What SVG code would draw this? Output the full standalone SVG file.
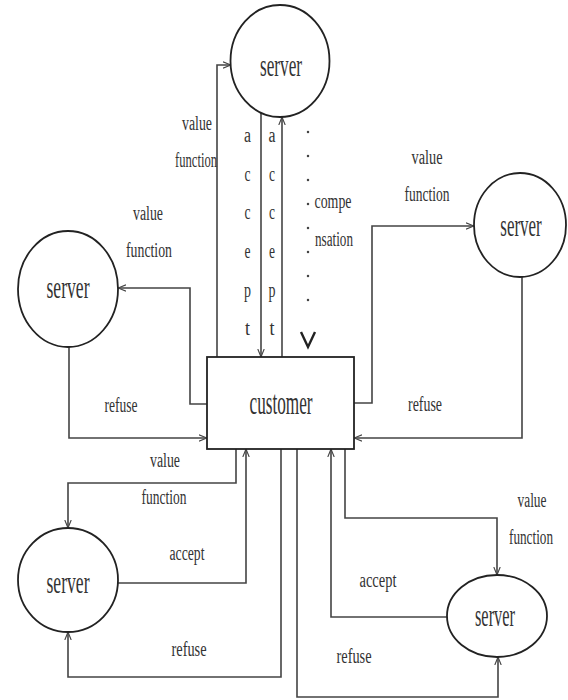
<svg xmlns="http://www.w3.org/2000/svg" width="568" height="700" viewBox="0 0 568 700">
<style>
  .node { fill: #fff; stroke: #222; stroke-width: 1.8; }
  .conn { fill: none; stroke: #444; stroke-width: 1.6; }
  .dots { fill: none; stroke: #444; stroke-width: 2.5; stroke-linecap: round; stroke-dasharray: 0 24; }
  text { font-family: "Liberation Serif", "Times New Roman", serif; fill: #333; text-anchor: middle; }
  .lbl { font-size: 20px; }
  .srv { font-size: 32px; }
  .cus { font-size: 34px; }
</style>
<defs>
  <marker id="arr" viewBox="0 0 10 10" refX="10" refY="5" markerWidth="8" markerHeight="8" markerUnits="userSpaceOnUse" orient="auto">
    <path d="M0,1 L10,5 L0,9" fill="none" stroke="#444" stroke-width="1.4"/>
  </marker>
</defs>
<rect width="568" height="700" fill="#fff"/>

<g id="connectors">
  <path class="conn" d="M217,357 V65 H231" marker-end="url(#arr)"/>
  <path class="conn" d="M261,113 V357" marker-end="url(#arr)"/>
  <path class="conn" d="M282,357 V117" marker-end="url(#arr)"/>
  <path class="dots" d="M308,132 V310"/>
  <path d="M301,332 L308,347 L315,332" fill="none" stroke="#222" stroke-width="2.4"/>
  <path class="conn" d="M354,403 H372 V226 H474" marker-end="url(#arr)"/>
  <path class="conn" d="M522,277 V438 H354" marker-end="url(#arr)"/>
  <path class="conn" d="M207,404 H190 V288 H118" marker-end="url(#arr)"/>
  <path class="conn" d="M69,347 V438 H207" marker-end="url(#arr)"/>
  <path class="conn" d="M236,449 V483 H68 V528" marker-end="url(#arr)"/>
  <path class="conn" d="M118,583 H246 V449" marker-end="url(#arr)"/>
  <path class="conn" d="M281,449 V677 H68 V632" marker-end="url(#arr)"/>
  <path class="conn" d="M297,449 V697 H498 V657" marker-end="url(#arr)"/>
  <path class="conn" d="M447,617 H331 V449" marker-end="url(#arr)"/>
  <path class="conn" d="M345,449 V518 H497 V575" marker-end="url(#arr)"/>
</g>

<g id="labels">
  <text class="lbl" x="197" y="130" textLength="30" lengthAdjust="spacingAndGlyphs">value</text>
  <text class="lbl" x="196" y="167" textLength="42" lengthAdjust="spacingAndGlyphs">function</text>
  <g class="lbl">
    <text x="247.5" y="142" textLength="7" lengthAdjust="spacingAndGlyphs">a</text>
    <text x="247.5" y="181" textLength="6" lengthAdjust="spacingAndGlyphs">c</text>
    <text x="247.5" y="219" textLength="6" lengthAdjust="spacingAndGlyphs">c</text>
    <text x="247.5" y="258" textLength="6" lengthAdjust="spacingAndGlyphs">e</text>
    <text x="247.5" y="297" textLength="7" lengthAdjust="spacingAndGlyphs">p</text>
    <text x="247.5" y="335" textLength="5" lengthAdjust="spacingAndGlyphs">t</text>
    <text x="272" y="142" textLength="7" lengthAdjust="spacingAndGlyphs">a</text>
    <text x="272" y="181" textLength="6" lengthAdjust="spacingAndGlyphs">c</text>
    <text x="272" y="219" textLength="6" lengthAdjust="spacingAndGlyphs">c</text>
    <text x="272" y="258" textLength="6" lengthAdjust="spacingAndGlyphs">e</text>
    <text x="272" y="297" textLength="7" lengthAdjust="spacingAndGlyphs">p</text>
    <text x="272" y="335" textLength="5" lengthAdjust="spacingAndGlyphs">t</text>
  </g>
  <text class="lbl" x="333" y="208" textLength="37" lengthAdjust="spacingAndGlyphs">compe</text>
  <text class="lbl" x="334" y="246" textLength="38" lengthAdjust="spacingAndGlyphs">nsation</text>
  <text class="lbl" x="148" y="220" textLength="30" lengthAdjust="spacingAndGlyphs">value</text>
  <text class="lbl" x="149" y="257" textLength="46" lengthAdjust="spacingAndGlyphs">function</text>
  <text class="lbl" x="121" y="412" textLength="33" lengthAdjust="spacingAndGlyphs">refuse</text>
  <text class="lbl" x="427" y="164" textLength="31" lengthAdjust="spacingAndGlyphs">value</text>
  <text class="lbl" x="427" y="201" textLength="45" lengthAdjust="spacingAndGlyphs">function</text>
  <text class="lbl" x="425" y="411" textLength="34" lengthAdjust="spacingAndGlyphs">refuse</text>
  <text class="lbl" x="165" y="467" textLength="30" lengthAdjust="spacingAndGlyphs">value</text>
  <text class="lbl" x="164" y="504" textLength="45" lengthAdjust="spacingAndGlyphs">function</text>
  <text class="lbl" x="187" y="560" textLength="35" lengthAdjust="spacingAndGlyphs">accept</text>
  <text class="lbl" x="189" y="656" textLength="35" lengthAdjust="spacingAndGlyphs">refuse</text>
  <text class="lbl" x="532" y="507" textLength="29" lengthAdjust="spacingAndGlyphs">value</text>
  <text class="lbl" transform="translate(531,544) scale(0.66,1)" x="0" y="0">function</text>
  <text class="lbl" x="378" y="587" textLength="37" lengthAdjust="spacingAndGlyphs">accept</text>
  <text class="lbl" x="354" y="663" textLength="35" lengthAdjust="spacingAndGlyphs">refuse</text>
</g>

<g id="customer">
  <rect class="node" x="207" y="357" width="147" height="92"/>
  <text class="cus" x="281" y="414" textLength="63" lengthAdjust="spacingAndGlyphs">customer</text>
</g>
<g id="server-top">
  <ellipse class="node" cx="280" cy="61" rx="49.5" ry="56"/>
  <text class="srv" x="281" y="76" textLength="42" lengthAdjust="spacingAndGlyphs">server</text>
</g>
<g id="server-left">
  <ellipse class="node" cx="68" cy="289" rx="50" ry="58"/>
  <text class="srv" x="68" y="298" textLength="43" lengthAdjust="spacingAndGlyphs">server</text>
</g>
<g id="server-right">
  <ellipse class="node" cx="520" cy="225" rx="46" ry="52"/>
  <text class="srv" transform="translate(521,236) scale(0.53,1)" x="0" y="0">server</text>
</g>
<g id="server-bottom-left">
  <ellipse class="node" cx="68" cy="580" rx="50" ry="52"/>
  <text class="srv" x="68" y="593" textLength="43" lengthAdjust="spacingAndGlyphs">server</text>
</g>
<g id="server-bottom-right">
  <ellipse class="node" cx="497" cy="616" rx="50" ry="41"/>
  <text class="srv" x="495" y="626" textLength="40" lengthAdjust="spacingAndGlyphs">server</text>
</g>
</svg>
